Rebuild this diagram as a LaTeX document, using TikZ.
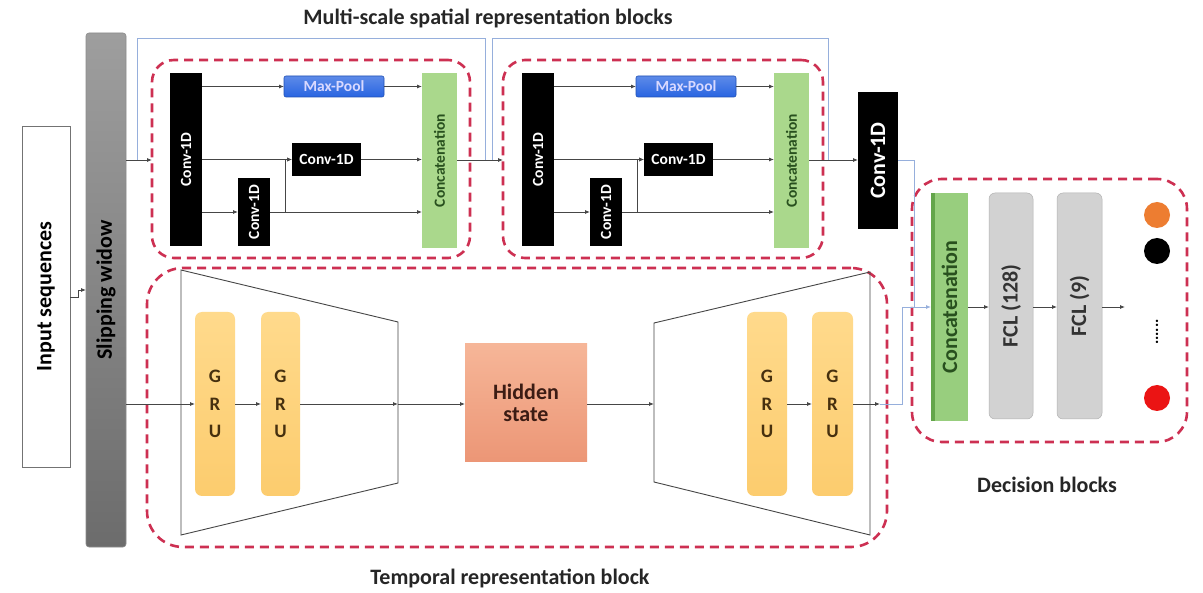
\documentclass[tikz,border=0pt]{standalone}
\usepackage{fontspec}
\setmainfont{Carlito}
\usetikzlibrary{arrows.meta}

\definecolor{dashred}{RGB}{205,48,82}
\definecolor{linegray}{RGB}{70,70,70}
\definecolor{skipblue}{RGB}{150,175,220}
\definecolor{poolblue}{RGB}{40,100,225}
\definecolor{catgreen}{RGB}{170,216,140}
\definecolor{catgreenD}{RGB}{152,206,126}
\definecolor{catgreenE}{RGB}{100,165,75}
\definecolor{catgreentext}{RGB}{40,80,30}
\definecolor{gruA}{RGB}{255,218,140}
\definecolor{gruB}{RGB}{252,204,110}
\definecolor{grutext}{RGB}{70,48,15}
\definecolor{hidA}{RGB}{246,182,152}
\definecolor{hidB}{RGB}{236,150,118}
\definecolor{hidtext}{RGB}{60,28,20}
\definecolor{fclgray}{RGB}{210,210,210}
\definecolor{swA}{RGB}{158,158,158}
\definecolor{swB}{RGB}{108,108,108}
\definecolor{outorange}{RGB}{237,125,49}
\definecolor{outred}{RGB}{235,20,20}

\newcommand{\bigfont}{\bfseries\fontsize{22}{26}\selectfont}
\newcommand{\smallfont}{\bfseries\fontsize{15.5}{18}\selectfont}

% box from corner (x1,y1) to (x2,y2)
\newcommand{\boxat}[7]{\node[#2,minimum width={(#5-#3)*1pt},minimum height={(#6-#4)*1pt}] (#1) at ({(#3+#5)/2},{(#4+#6)/2}) {#7};}

\tikzset{
  every node/.style={inner sep=0pt,outer sep=0pt},
  arr/.style={draw=linegray,line width=0.8pt,-{Latex[length=5pt,width=4pt]}},
  plain/.style={draw=linegray,line width=0.8pt},
  skip/.style={draw=skipblue,line width=0.9pt},
  skiparr/.style={draw=skipblue,line width=0.9pt,-{Latex[length=5pt,width=4pt]}},
  grp/.style={draw=dashred,line width=2.6pt,dash pattern=on 9pt off 6pt,rounded corners=22pt},
  convbox/.style={fill=black,text=white,font=\smallfont},
  poolbox/.style={draw=poolblue!80!black,line width=0.6pt,top color=poolblue!75!white,bottom color=poolblue,rounded corners=2pt,text=white!85!blue,font=\smallfont},
  catbox/.style={fill=catgreen,text=catgreentext,font=\smallfont},
  dcatbox/.style={fill=catgreenD,text=catgreentext,font=\bigfont},
  grubox/.style={top color=gruA,bottom color=gruB,rounded corners=7pt,text=grutext,font=\bfseries\fontsize{19}{27.5}\selectfont,align=center},
  hidbox/.style={top color=hidA,bottom color=hidB,text=hidtext,font=\bigfont,align=center},
  fclbox/.style={fill=fclgray,draw=fclgray!85!black,line width=0.5pt,rounded corners=6pt,text=black!80,font=\bigfont},
  trap/.style={draw=linegray,line width=0.9pt},
  outdot/.style={circle,minimum size=26pt},
  title/.style={font=\bigfont,text=black!85}
}

\begin{document}
\begin{tikzpicture}[x=1pt,y=-1pt]
\useasboundingbox[fill=white] (0,0) rectangle (1203,593);

% group frames
\boxat{blk1}{grp}{152}{60}{470}{258}{}
\boxat{blk2}{grp}{503}{60}{823}{258}{}
\boxat{tblk}{grp,rounded corners=36pt}{147}{268}{887}{547}{}
\boxat{dblk}{grp,rounded corners=30pt}{912}{179}{1187}{442}{}

% headings
\node[title] (t1) at (488,18) {Multi-scale spatial representation blocks};
\node[title] (t2) at (510,578) {Temporal representation block};
\node[title] (t3) at (1047,485) {Decision blocks};

% input and slipping window
\boxat{inp}{draw=black!55,line width=0.8pt,fill=white,font=\bigfont}{22}{126}{70}{467}{\rotatebox{90}{Input sequences}}
\boxat{sw}{draw=black!45,line width=0.6pt,top color=swA,bottom color=swB,rounded corners=3pt,font=\bigfont}{86}{33}{126}{547}{\rotatebox{90}{Slipping widow}}
\draw[arr] (inp.east |- 0,297) -- (78,297) -- (78,290) -- (sw.west |- 0,290);

% spatial block 1
\boxat{c1}{convbox}{170}{73}{202}{246}{\rotatebox{90}{Conv-1D}}
\boxat{mp1}{poolbox}{284}{76}{384}{97}{Max-Pool}
\boxat{mc1}{convbox}{292}{143}{361}{176}{Conv-1D}
\boxat{sc1}{convbox}{238}{178}{270}{246}{\rotatebox{90}{Conv-1D}}
\boxat{cat1}{catbox}{422}{73}{457}{248}{\rotatebox{90}{Concatenation}}
\coordinate (j1) at (285,212);
\draw[arr] (c1.east |- mp1.west) -- (mp1.west);
\draw[arr] (mp1.east) -- (cat1.west |- mp1.east);
\draw[arr] (c1.east |- mc1.west) -- (mc1.west);
\draw[arr] (mc1.east) -- (cat1.west |- mc1.east);
\draw[arr] (c1.east |- sc1.west) -- (sc1.west);
\draw[arr] (sc1.east) -- (cat1.west |- sc1.east);
\draw[arr] (j1) |- (mc1.west);

% spatial block 2
\boxat{c2}{convbox}{522}{73}{554}{246}{\rotatebox{90}{Conv-1D}}
\boxat{mp2}{poolbox}{636}{76}{736}{97}{Max-Pool}
\boxat{mc2}{convbox}{644}{143}{713}{176}{Conv-1D}
\boxat{sc2}{convbox}{590}{178}{622}{246}{\rotatebox{90}{Conv-1D}}
\boxat{cat2}{catbox}{774}{73}{809}{248}{\rotatebox{90}{Concatenation}}
\coordinate (j2) at (637,212);
\draw[arr] (c2.east |- mp2.west) -- (mp2.west);
\draw[arr] (mp2.east) -- (cat2.west |- mp2.east);
\draw[arr] (c2.east |- mc2.west) -- (mc2.west);
\draw[arr] (mc2.east) -- (cat2.west |- mc2.east);
\draw[arr] (c2.east |- sc2.west) -- (sc2.west);
\draw[arr] (sc2.east) -- (cat2.west |- sc2.east);
\draw[arr] (j2) |- (mc2.west);

% final spatial convolution
\boxat{fc}{convbox,font=\bigfont}{858}{92}{898}{229}{\rotatebox{90}{Conv-1D}}

% spatial flow and skip paths
\draw[arr] (sw.east |- 0,160) -- (blk1.west |- 0,160);
\draw[arr] (cat1.east |- 0,160) -- (blk2.west |- 0,160);
\draw[arr] (cat2.east |- 0,160) -- (fc.west |- 0,160);
\draw[skip] (137,160) -- (137,38) -- (485,38) -- (485,160);
\draw[skip] (492,160) -- (492,38) -- (828,38) -- (828,160);

% temporal block
\draw[trap] (181,270) -- (398,322) -- (398,483) -- (181,535) -- cycle;
\draw[trap] (654,323) -- (870,272) -- (870,535) -- (654,482) -- cycle;
\boxat{g1}{grubox}{195}{312}{235}{496}{G\\R\\U}
\boxat{g2}{grubox}{261}{312}{300}{496}{G\\R\\U}
\boxat{hs}{hidbox}{465}{344}{587}{462}{Hidden\\[-4pt]state}
\boxat{g3}{grubox}{747}{312}{787}{496}{G\\R\\U}
\boxat{g4}{grubox}{812}{312}{853}{496}{G\\R\\U}
\coordinate (e1) at (398,404);
\coordinate (e2) at (654,404);
\coordinate (e3) at (880,404);
\draw[arr] (sw.east |- g1.west) -- (g1.west);
\draw[arr] (g1.east) -- (g2.west);
\draw[arr] (g2.east) -- (e1);
\draw[arr] (e1) -- (hs.west |- e1);
\draw[arr] (hs.east |- e2) -- (e2);
\draw[arr] (g3.east) -- (g4.west);
\draw[arr] (g4.east) -- (e3);

% decision block
\boxat{dcat}{dcatbox}{931}{193}{968}{421}{\rotatebox{90}{Concatenation}}
\fill[catgreenE] (dcat.north west) rectangle ([xshift=4pt]dcat.south west);
\boxat{f1}{fclbox}{989}{193}{1033}{419}{\rotatebox{90}{FCL (128)}}
\boxat{f2}{fclbox}{1057}{193}{1102}{419}{\rotatebox{90}{FCL (9)}}
\coordinate (dout) at (1125,307);
\draw[skiparr] (fc.east |- 0,160) -- (914,160) -- (914,307) -- (dcat.west |- 0,307);
\draw[skip] (e3) -- (902,404) -- (902,307) -- (914,307);
\draw[arr] (dcat.east |- 0,307) -- (f1.west |- 0,307);
\draw[arr] (f1.east |- 0,307) -- (f2.west |- 0,307);
\draw[arr] (f2.east |- 0,307) -- (dout);
\node[outdot,fill=outorange] (o1) at (1157,215) {};
\node[outdot,fill=black] (o2) at (1157,251) {};
\node[outdot,fill=outred] (o3) at (1157,398) {};
\node[font=\bfseries\fontsize{16}{18}\selectfont] (odots) at (1157,332) {\rotatebox{90}{......}};
\end{tikzpicture}
\end{document}
